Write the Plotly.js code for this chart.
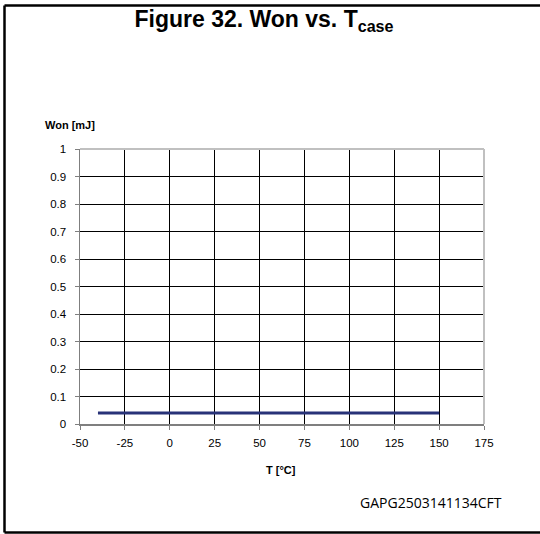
<!DOCTYPE html>
<html>
<head>
<meta charset="utf-8">
<script src="https://cdn.plot.ly/plotly-3.0.1.min.js"></script>
<style>
html,body{margin:0;padding:0;background:#fff;}
#chart{width:540px;height:534px;}
</style>
</head>
<body>
<div id="chart"></div>
<script>
// Data
var tempC = [-40, 150];
var wonMJ = [0.04, 0.04];
var xTickVals = [-50, -25, 0, 25, 50, 75, 100, 125, 150, 175];
var xTickText = ['-50', '-25', '0', '25', '50', '75', '100', '125', '150', '175'];
var yTickVals = [0, 0.1, 0.2, 0.3, 0.4, 0.5, 0.6, 0.7, 0.8, 0.9, 1];
var yTickText = ['0', '0.1', '0.2', '0.3', '0.4', '0.5', '0.6', '0.7', '0.8', '0.9', '1'];

var trace = {
  x: tempC, y: wonMJ, type: 'scatter', mode: 'lines',
  line: {color: '#283278', width: 3}, hoverinfo: 'skip', showlegend: false
};

var tickFont = {family: 'Arial, "Liberation Sans", sans-serif', size: 11.5, color: '#000'};
var px = function (p) { return (p - 80) / 404; };
var py = function (p) { return (424 - p) / 275; };

var layout = {
  width: 540, height: 534,
  margin: {l: 80, r: 56, t: 149, b: 110, pad: 0},
  paper_bgcolor: '#fff', plot_bgcolor: '#fff',
  title: {
    text: '<b>Figure 32. Won vs. T<sub>case</sub></b>',
    font: {family: 'Arial, "Liberation Sans", sans-serif', size: 23, color: '#000'},
    x: px(264), xanchor: 'center', xref: 'paper',
    y: 0.979, yanchor: 'top', yref: 'container'
  },
  xaxis: {
    range: [-50, 175], tickmode: 'array', tickvals: xTickVals, ticktext: xTickText,
    showgrid: true, gridcolor: '#000', gridwidth: 1, zeroline: false,
    showline: true, linecolor: '#7f7f7f', linewidth: 1.5,
    ticks: 'outside', ticklen: 4, tickcolor: '#7f7f7f', tickwidth: 1,
    ticklabelstandoff: 4,
    tickfont: tickFont, fixedrange: true
  },
  yaxis: {
    range: [0, 1], tickmode: 'array', tickvals: yTickVals, ticktext: yTickText,
    showgrid: true, gridcolor: '#000', gridwidth: 1, zeroline: false,
    showline: true, linecolor: '#7f7f7f', linewidth: 1.5,
    ticks: 'outside', ticklen: 4, tickcolor: '#7f7f7f', tickwidth: 1,
    ticklabelstandoff: 6,
    tickfont: tickFont, fixedrange: true
  },
  shapes: [
    {type: 'line', xref: 'paper', yref: 'paper', x0: 0, x1: 1, y0: 1, y1: 1,
     line: {color: '#c0c0c0', width: 2}, layer: 'above'},
    {type: 'line', xref: 'paper', yref: 'paper', x0: 1, x1: 1, y0: 0, y1: 1,
     line: {color: '#c0c0c0', width: 2}, layer: 'above'},
    {type: 'line', xref: 'paper', yref: 'paper', x0: px(4.5), x1: px(4.5), y0: py(532.5), y1: py(5.5),
     line: {color: '#000', width: 2.5}, layer: 'above'},
    {type: 'line', xref: 'paper', yref: 'paper', x0: px(4.5), x1: px(545), y0: py(5.5), y1: py(5.5),
     line: {color: '#000', width: 2.5}, layer: 'above'},
    {type: 'line', xref: 'paper', yref: 'paper', x0: px(4.5), x1: px(545), y0: py(532.5), y1: py(532.5),
     line: {color: '#000', width: 2.5}, layer: 'above'}
  ],
  annotations: [
    {text: '<b>Won [mJ]</b>', xref: 'paper', yref: 'paper',
     x: px(43), xanchor: 'left', y: py(125), yanchor: 'middle',
     showarrow: false, font: {family: 'Arial, "Liberation Sans", sans-serif', size: 11, color: '#000'}},
    {text: '<b>T [°C]</b>', xref: 'paper', yref: 'paper',
     x: px(280.5), xanchor: 'center', y: py(470), yanchor: 'middle',
     showarrow: false, font: {family: 'Arial, "Liberation Sans", sans-serif', size: 11, color: '#000'}},
    {text: 'GAPG2503141134CFT', xref: 'paper', yref: 'paper',
     x: px(430.5), xanchor: 'center', y: py(502), yanchor: 'middle',
     showarrow: false, font: {family: '"Open Sans", sans-serif', size: 14, color: '#000'}}
  ]
};

Plotly.newPlot('chart', [trace], layout, {staticPlot: true, displayModeBar: false});
</script>
</body>
</html>
